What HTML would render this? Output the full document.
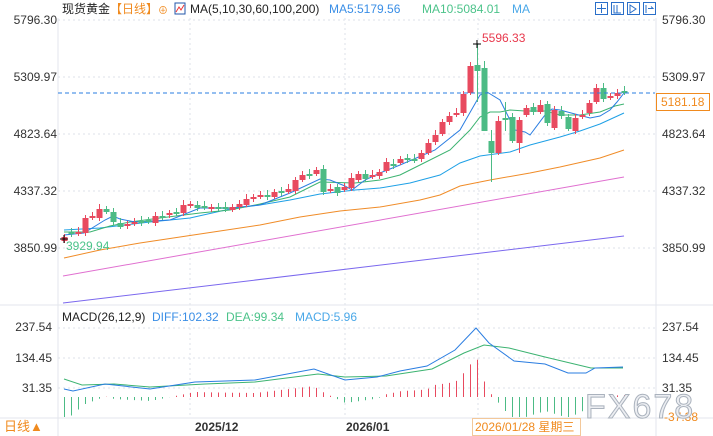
<!DOCTYPE html>
<html><head><meta charset="utf-8"><style>
body{margin:0;background:#fff;width:713px;height:436px;overflow:hidden;font-family:"Liberation Sans","Noto Sans CJK SC",sans-serif}
svg{position:absolute;left:0;top:0}
</style></head><body>
<svg id="s" width="713" height="436" xmlns="http://www.w3.org/2000/svg" font-family="Liberation Sans, Noto Sans CJK SC, sans-serif">
<g stroke="#dde2ea" stroke-dasharray="2,3" stroke-width="1">
<line x1="58" y1="20" x2="655" y2="20"/><line x1="58" y1="77" x2="655" y2="77"/><line x1="58" y1="134" x2="655" y2="134"/><line x1="58" y1="191" x2="655" y2="191"/><line x1="58" y1="248" x2="655" y2="248"/>
<line x1="58" y1="328" x2="655" y2="328"/><line x1="58" y1="358" x2="655" y2="358"/><line x1="58" y1="388" x2="655" y2="388"/>
<line x1="190" y1="18" x2="190" y2="418"/><line x1="345" y1="18" x2="345" y2="418"/><line x1="478" y1="18" x2="478" y2="418"/>
</g>
<line x1="0" y1="305" x2="713" y2="305" stroke="#e3e6ec"/>
<line x1="58" y1="18" x2="58" y2="436" stroke="#e3e6ec"/>
<line x1="656" y1="18" x2="656" y2="436" stroke="#e3e6ec"/>
<line x1="0" y1="418" x2="713" y2="418" stroke="#e3e6ec"/>
<g font-size="12" fill="#333">
<text x="57" y="24" text-anchor="end">5796.30</text><text x="57" y="81" text-anchor="end">5309.97</text><text x="57" y="138" text-anchor="end">4823.64</text><text x="57" y="195" text-anchor="end">4337.32</text><text x="57" y="252" text-anchor="end">3850.99</text>
<text x="662" y="24">5796.30</text><text x="662" y="81">5309.97</text><text x="662" y="138">4823.64</text><text x="662" y="195">4337.32</text><text x="662" y="252">3850.99</text>
<text x="52" y="331" text-anchor="end">237.54</text><text x="52" y="362" text-anchor="end">134.45</text><text x="52" y="392" text-anchor="end">31.35</text>
<text x="662" y="331">237.54</text><text x="662" y="362">134.45</text><text x="662" y="392">31.35</text>
</g>
<text x="664" y="421" font-size="12" fill="#f08a1e">-37.38</text>
<g id="lines"></g>
<g id="candles"></g>
<g id="macd"></g>
<line x1="58" y1="93" x2="655" y2="93" stroke="#2a7de1" stroke-dasharray="4,3"/>
<rect x="656.5" y="93.5" width="53" height="17" fill="#fff" stroke="#f08a1e"/>
<text x="661" y="106" font-size="12" fill="#f08a1e">5181.18</text>
<text x="482" y="42" font-size="12" fill="#e8394d">5596.33</text>
<path d="M473 44h8M477 40v8" stroke="#000"/>
<text x="66" y="250" font-size="12" fill="#4cc38a">3929.94</text>
<path d="M60 239h8M64 235v8" stroke="#000"/>
<g font-size="12">
<text x="62" y="13" fill="#222">现货黄金</text>
<text x="110" y="13" fill="#f08a1e">【日线】</text>
<text x="158" y="14" fill="#f08a1e" font-size="10">⊕</text>
<rect x="175" y="3" width="10" height="11" fill="#fff" stroke="#2255aa"/><path d="M176 12l3-5 2 3 3-5" stroke="#e33" fill="none"/>
<text x="190" y="13" fill="#222">MA(5,10,30,60,100,200)</text>
<text x="329" y="13" fill="#3a8ee6">MA5:5179.56</text>
<text x="422" y="13" fill="#4cc38a">MA10:5084.01</text>
<text x="512" y="13" fill="#4aa8e8">MA</text>
<text x="62" y="321" fill="#222">MACD(26,12,9)</text>
<text x="152" y="321" fill="#3a8ee6">DIFF:102.32</text>
<text x="226" y="321" fill="#4cc38a">DEA:99.34</text>
<text x="295" y="321" fill="#4aa8e8">MACD:5.96</text>
<text x="195" y="431" fill="#333" font-weight="bold">2025/12</text>
<text x="346" y="431" fill="#333" font-weight="bold">2026/01</text>
<text x="4" y="431" fill="#f08a1e" font-size="13">日线▲</text>
</g>
<rect x="472.5" y="418.5" width="108" height="17" fill="#fff" stroke="#f3c89a"/>
<text x="475" y="431" font-size="12" fill="#f08a1e">2026/01/28 星期三</text>
<g fill="#fff" stroke="#2a6fc9">
<rect x="595.5" y="2.5" width="12" height="12"/><rect x="611.5" y="2.5" width="12" height="12"/><rect x="627.5" y="2.5" width="12" height="12"/><rect x="643.5" y="2.5" width="12" height="12"/>
</g>
<g stroke="#2a6fc9" fill="none"><path d="M601.5 4v9M597 8.5h9M614 5v8h7M617 5v8M630 5v8l6-4z M646 5v8M648 8.5h5l-2-2"/></g>
<text x="585" y="418" font-size="34" fill="#eceef2" stroke="#aab2bd" stroke-width="1" letter-spacing="2">FX678</text>
</svg>
<script>
const NS="http://www.w3.org/2000/svg";
function el(p,t,a){const e=document.createElementNS(NS,t);for(const k in a)e.setAttribute(k,a[k]);document.getElementById(p).appendChild(e);return e;}
function pl(p,pts,c){el(p,"polyline",{points:pts.map(q=>q.join(",")).join(" "),fill:"none",stroke:c,"stroke-width":1});}
function interp(pts,x){if(x<=pts[0][0])return pts[0][1];for(let i=1;i<pts.length;i++){if(x<=pts[i][0]){const a=pts[i-1],b=pts[i];return a[1]+(b[1]-a[1])*(x-a[0])/(b[0]-a[0]);}}return pts[pts.length-1][1];}
pl("lines",[[63,303],[624,236]],"#7b68ee");
pl("lines",[[63,276],[624,177]],"#e070d0");
pl("lines",[[64,258],[100,250],[140,243],[180,237],[220,231],[260,225],[300,217],[340,211],[380,207],[420,200],[440,195],[460,186],[490,180],[530,173],[560,167],[600,158],[624,150]],"#f08c28");
pl("lines",[[64,230],[100,228],[150,222],[190,218],[230,209],[260,205],[290,200],[320,194],[355,190],[380,188],[410,183],[440,175],[460,163],[480,156],[510,152],[530,145],[560,137],[580,131],[600,124],[624,113]],"#1ea0e6");
pl("lines",[[64,232],[90,232],[110,226],[130,222],[160,218],[200,213],[230,210],[260,204],[290,197],[320,182],[355,183],[380,180],[400,175],[420,165],[450,150],[470,130],[480,117],[490,112],[500,112],[510,110],[525,111],[545,111],[560,115],[580,115],[600,112],[615,106],[624,104]],"#3cb371");
pl("lines",[[64,235],[84,233],[105,220],[113,216],[120,219],[135,222],[170,220],[200,208],[230,208],[260,205],[290,193],[320,179],[330,180],[345,186],[352,190],[365,180],[380,173],[400,165],[435,150],[460,130],[480,95],[487,92],[500,100],[515,130],[525,132],[530,135],[545,115],[552,109],[560,110],[575,114],[590,118],[600,116],[610,110],[617,102],[624,93]],"#2a7de1");
const C=[[237,241,1],[232,234,0],[232,234,1],[218,233,1],[216,218,1],[209,218,1],[209,212,0],[212,222,0],[223,227,0],[224,226,1],[222,224,1],[221,223,0],[220,222,0],[216,223,1],[216,218,0],[213,215,1],[212,214,0],[205,213,1],[204,206,1],[205,208,0],[206,208,0],[207,209,1],[207,209,0],[207,209,0],[207,210,1],[204,207,1],[199,205,1],[197,199,1],[195,197,1],[195,197,0],[192,197,1],[191,193,0],[189,192,1],[180,191,1],[175,180,1],[174,176,0],[170,174,1],[169,192,0],[189,191,1],[187,193,0],[187,190,1],[178,188,1],[174,180,1],[174,179,0],[175,177,1],
[172,176,1],[162,171,1],[164,166,0],[159,163,1],[158,160,0],[159,161,0],[153,159,1],[143,153,1],[135,142,1],[122,134,1],[116,122,1],[113,115,1],[94,113,1],[66,93,1],[65,71,0,44,102],[68,131,0,61,131],[141,153,0,130,182],[121,153,1],[118,120,0,102,131],[117,141,0],[120,143,1,117,153],[108,115,1],[107,112,0],[105,112,1],[104,123,0],[110,128,1],[111,116,0],[117,129,0],[118,131,1],[115,117,1],[103,113,1],[88,102,1],[88,99,0],[96,98,1],[93,96,1],[91,93,0]];
C.forEach((c,k)=>{const x=64+7*k;const col=c[2]?"#e84a5f":"#4cbb85";const hi=c[3]!==undefined?c[3]:c[0]-3-(k%3);const lo=c[4]!==undefined?c[4]:c[1]+2+(k%2);
el("candles","line",{x1:x+0.5,y1:hi,x2:x+0.5,y2:lo,stroke:col});
el("candles","rect",{x:x-2.5,y:c[0],width:6,height:Math.max(1,c[1]-c[0]),fill:col});});
const DIFF=[[64,389],[73,391],[105,384],[150,389],[195,382],[255,380],[314,369],[345,380],[377,377],[400,371],[427,366],[455,350],[476,328],[489,343],[514,361],[545,364],[568,373],[586,373],[595,368],[623,367]];
const DEA=[[64,379],[82,385],[114,384],[150,387],[205,384],[255,382],[318,374],[345,377],[386,376],[432,369],[464,353],[484,345],[509,348],[545,357],[591,368],[623,368]];
C.forEach((c,k)=>{const x=64+7*k;const h=2*(interp(DEA,x)-interp(DIFF,x));const z=397;
el("macd","line",{x1:x+0.5,y1:z,x2:x+0.5,y2:Math.max(300,Math.min(417,z-h)),stroke:h>=0?"#e84a5f":"#4cbb85"});});
pl("macd",DEA,"#3cb371");pl("macd",DIFF,"#2a7de1");
</script>
</body></html>
